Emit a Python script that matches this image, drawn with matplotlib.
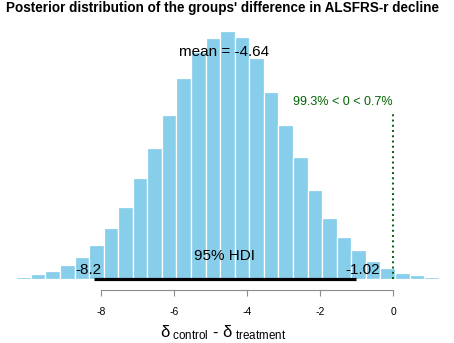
import numpy as np
import matplotlib
matplotlib.use('Agg')
import matplotlib.pyplot as plt

plt.rcParams['font.family'] = ['Liberation Sans', 'DejaVu Sans']
plt.rcParams['mathtext.fontset'] = 'custom'
plt.rcParams['mathtext.rm'] = 'Liberation Sans'
plt.rcParams['mathtext.it'] = 'Liberation Sans'
plt.rcParams['axes.unicode_minus'] = False

# posterior histogram (density)
bin_start = -10.72
bin_width = 0.399
density = [0.0012, 0.0021, 0.0043, 0.0076, 0.0132, 0.0206, 0.0313, 0.0467, 0.0664, 0.0934,
           0.1210, 0.1512, 0.1855, 0.2089, 0.2224, 0.2283, 0.2230, 0.2034, 0.1724, 0.1422,
           0.1127, 0.0820, 0.0562, 0.0390, 0.0267, 0.0166, 0.0104, 0.0055, 0.0034, 0.0018,
           0.0009]

post_mean = -4.64
hdi = [-8.2, -1.02]
comp_val = 0
pct_below = 99.3
pct_above = 0.7
xticks = [-8, -6, -4, -2, 0]

title = "Posterior distribution of the groups' difference in ALSFRS-r decline"

W, H = 454, 343
fig = plt.figure(figsize=(W / 100, H / 100), dpi=100)
# axes bottom sits on the bar baseline
base_px = 279
ax = fig.add_axes([0, (H - base_px) / H, 1, base_px / H])

edges = bin_start + bin_width * np.arange(len(density) + 1)
ax.bar(edges[:-1], density, width=bin_width, align='edge',
       color='#87CEEB', edgecolor='white', linewidth=0.9)

ax.set_xlim(-10.767, 1.671)
ylim_top = 0.2571
ax.set_ylim(0, ylim_top)
px = ylim_top / base_px  # data units per pixel, vertical

# HDI bar and labels
ax.plot(hdi, [0, 0], color='black', lw=2.3, solid_capstyle='butt', clip_on=False, zorder=5)
ax.text(np.mean(hdi), 19 * px, '95% HDI', ha='center', va='baseline', fontsize=11)
ax.annotate('{:g}'.format(hdi[0]), (hdi[0], 0), xytext=(-5.3, 5), textcoords='offset pixels',
            ha='center', va='baseline', fontsize=11)
ax.annotate('{:g}'.format(hdi[1]), (hdi[1], 0), xytext=(7.1, 5), textcoords='offset pixels',
            ha='center', va='baseline', fontsize=11)

# mean
ax.text(post_mean, (base_px - 56) * px, 'mean = {:g}'.format(post_mean),
        ha='center', va='baseline', fontsize=11)

# comparison value
ax.plot([comp_val, comp_val], [0, (base_px - 112) * px], color='#006400',
        lw=1.4, linestyle=(0, (1, 1.7)), zorder=4)
ax.text(comp_val, (base_px - 105) * px,
        '{}% < {} < {}%'.format(pct_below, comp_val, pct_above),
        ha='right', va='baseline', fontsize=9, color='#006400')

# x axis, R style
for s in ['left', 'right', 'top']:
    ax.spines[s].set_visible(False)
ax.spines['bottom'].set_position(('outward', 8))
ax.spines['bottom'].set_bounds(xticks[0], xticks[-1])
ax.spines['bottom'].set_color('#8c8c8c')
ax.spines['bottom'].set_linewidth(0.8)
ax.set_xticks(xticks)
ax.set_xticklabels([str(t) for t in xticks])
ax.tick_params(axis='x', direction='out', length=4, width=0.8, color='#8c8c8c',
               labelsize=7.5, pad=8)
ax.set_yticks([])

fig.text(223 / W, (H - 337) / H,
         r'$\delta_{\ \mathrm{control}}$ - $\delta_{\ \mathrm{treatment}}$',
         ha='center', va='baseline', fontsize=12)
fig.text(223 / W, (H - 12) / H, title, ha='center', va='baseline',
         fontsize=9.75, fontweight='bold')

fig.savefig('out.png', dpi=100)
